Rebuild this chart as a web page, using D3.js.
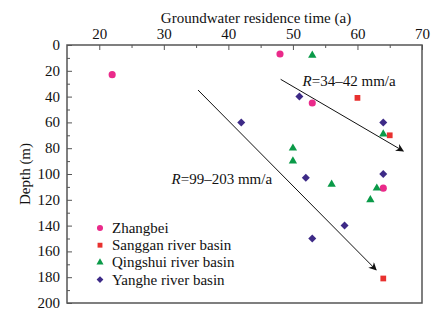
<!DOCTYPE html>
<html>
<head>
<meta charset="utf-8">
<script src="https://cdn.jsdelivr.net/npm/d3@7"></script>
<style>
  html, body { margin: 0; padding: 0; background: #fff; }
  svg text { font-family: "Liberation Serif", "DejaVu Serif", serif; fill: #111; }
</style>
</head>
<body>
<div id="chart"></div>
<script>
// Residence time (a) vs depth (m), one array per basin
const zhangbei = [[22, 23], [48, 7], [53, 45], [64, 111]];
const sanggan = [[60, 41], [65, 70], [64, 181]];
const qingshui = [[53, 8], [50, 80], [50, 90], [56, 108], [63, 111], [62, 120], [64, 69]];
const yanghe = [[51, 40], [42, 60], [64, 60], [52, 103], [64, 100], [58, 140], [53, 150]];

const seriesNames = ['Zhangbei', 'Sanggan river basin', 'Qingshui river basin', 'Yanghe river basin'];
const seriesData = [zhangbei, sanggan, qingshui, yanghe];

// Recharge-rate arrows: [x0, y0, x1, y1] in data units
const arrows = [[48.1, 26.6, 67.1, 82.2], [35.3, 34.9, 62.9, 174.4]];
const arrowLabels = [
  {x: 51.5, y: 32, rate: '=34–42 mm/a'},
  {x: 31.2, y: 108, rate: '=99–203 mm/a'}
];

const xTicks = [20, 30, 40, 50, 60, 70];
const yTicks = [0, 20, 40, 60, 80, 100, 120, 140, 160, 180, 200];

const width = 443, height = 323;
const margin = {top: 45, left: 67, right: 21, bottom: 20};
const fontSize = '15px';
const axisColor = '#555';

const svg = d3.select('#chart')
  .append('svg')
  .attr('width', width)
  .attr('height', height);

const xScale = d3.scaleLinear()
  .domain([15, 70])
  .range([margin.left, width - margin.right]);

const yScale = d3.scaleLinear()
  .domain([0, 200])
  .range([margin.top, height - margin.bottom]);

// Frame
svg.append('rect')
  .attr('x', xScale(15))
  .attr('y', yScale(0))
  .attr('width', xScale(70) - xScale(15))
  .attr('height', yScale(200) - yScale(0))
  .attr('fill', 'none')
  .attr('stroke', axisColor)
  .attr('stroke-width', 1.5);

// x axis on top, ticks pointing inward
const xAxis = svg.append('g')
  .attr('class', 'x-axis')
  .attr('transform', `translate(0, ${yScale(0)})`)
  .call(d3.axisTop(xScale).tickValues(xTicks).tickSize(-5));
xAxis.select('.domain').remove();
xAxis.selectAll('line').attr('stroke', axisColor);
xAxis.selectAll('text').style('font-size', fontSize).attr('y', -6);

svg.append('g')
  .attr('transform', `translate(0, ${yScale(0)})`)
  .call(d3.axisTop(xScale).tickValues(d3.range(25, 70, 10)).tickSize(-3).tickFormat(''))
  .call(g => g.select('.domain').remove())
  .selectAll('line').attr('stroke', axisColor);

// y axis, ticks pointing inward
const yAxis = svg.append('g')
  .attr('class', 'y-axis')
  .attr('transform', `translate(${xScale(15)}, 0)`)
  .call(d3.axisLeft(yScale).tickValues(yTicks).tickSize(-5));
yAxis.select('.domain').remove();
yAxis.selectAll('line').attr('stroke', axisColor);
yAxis.selectAll('text').style('font-size', fontSize).attr('x', -7).attr('dy', '0.3em');

svg.append('g')
  .attr('transform', `translate(${xScale(15)}, 0)`)
  .call(d3.axisLeft(yScale).tickValues(d3.range(10, 200, 20)).tickSize(-3).tickFormat(''))
  .call(g => g.select('.domain').remove())
  .selectAll('line').attr('stroke', axisColor);

// Axis titles
svg.append('text')
  .attr('x', 256)
  .attr('y', 23)
  .attr('text-anchor', 'middle')
  .style('font-size', fontSize)
  .text('Groundwater residence time (a)');

svg.append('text')
  .attr('transform', 'rotate(-90)')
  .attr('x', -(yScale(0) + yScale(200)) / 2)
  .attr('y', 30)
  .attr('text-anchor', 'middle')
  .style('font-size', fontSize)
  .text('Depth (m)');

// Arrows
const defs = svg.append('defs');
defs.append('marker')
  .attr('id', 'arrowHead')
  .attr('viewBox', '0 0 10 10')
  .attr('refX', 9)
  .attr('refY', 5)
  .attr('markerWidth', 11)
  .attr('markerHeight', 8)
  .attr('markerUnits', 'userSpaceOnUse')
  .attr('orient', 'auto')
  .append('path')
  .attr('d', 'M0,0 L10,5 L0,10 L3,5 Z')
  .attr('fill', '#111');

svg.selectAll('.arrow')
  .data(arrows)
  .enter()
  .append('line')
  .attr('class', 'arrow')
  .attr('x1', d => xScale(d[0]))
  .attr('y1', d => yScale(d[1]))
  .attr('x2', d => xScale(d[2]))
  .attr('y2', d => yScale(d[3]))
  .attr('stroke', '#111')
  .attr('stroke-width', 1)
  .attr('marker-end', 'url(#arrowHead)');

const rateText = svg.selectAll('.rate-label')
  .data(arrowLabels)
  .enter()
  .append('text')
  .attr('class', 'rate-label')
  .attr('x', d => xScale(d.x))
  .attr('y', d => yScale(d.y))
  .style('font-size', fontSize);
rateText.append('tspan').style('font-style', 'italic').text('R');
rateText.append('tspan').text(d => d.rate);

// Marker shapes
const colors = ['#ea2a8a', '#e8312f', '#0a9a48', '#3d2a87'];
const symbols = [d3.symbolCircle, d3.symbolSquare, d3.symbolTriangle, d3.symbolDiamond];
const sizes = [40, 33, 30, 0];

function markerPath(i, scale) {
  if (i === 3) {
    const r = 4 * scale;
    return `M0,${-r}L${r},0L0,${r}L${-r},0Z`;
  }
  return d3.symbol().type(symbols[i]).size(sizes[i] * scale * scale)();
}

seriesData.forEach((pts, i) => {
  svg.selectAll('.pt' + i)
    .data(pts)
    .enter()
    .append('path')
    .attr('class', 'pt' + i)
    .attr('d', markerPath(i, 1))
    .attr('transform', d => `translate(${xScale(d[0])}, ${yScale(d[1])})`)
    .attr('fill', colors[i]);
});

// Legend
const legend = svg.append('g')
  .attr('transform', `translate(100, 228)`);

const legendItem = legend.selectAll('g')
  .data(seriesNames)
  .enter()
  .append('g')
  .attr('transform', (d, i) => `translate(0, ${i * 17.2})`);

legendItem.append('path')
  .attr('d', (d, i) => markerPath(i, 0.85))
  .attr('fill', (d, i) => colors[i]);

legendItem.append('text')
  .attr('x', 12)
  .attr('dy', '0.33em')
  .style('font-size', fontSize)
  .text(d => d);
</script>
</body>
</html>
